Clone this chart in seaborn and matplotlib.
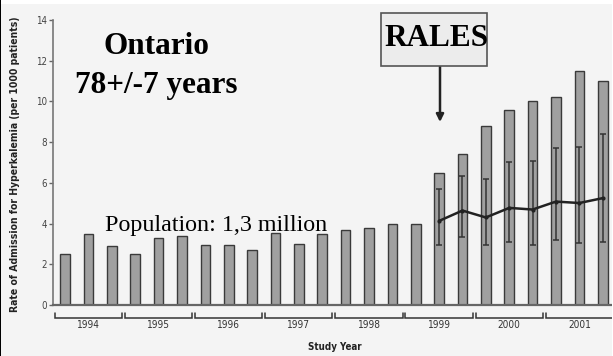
import matplotlib
matplotlib.use("Agg")
import matplotlib.pyplot as plt
from matplotlib.patches import Rectangle
import numpy as np
import pandas as pd
import seaborn as sns

# Admission rate for hyperkalemia, three periods per study year
years = ["1994", "1995", "1996", "1997", "1998", "1999", "2000", "2001"]
rates = [2.5, 3.5, 2.9, 2.5, 3.3, 3.4, 2.95, 2.95, 2.7, 3.55, 3.0, 3.5,
         3.7, 3.8, 4.0, 4.0, 6.5, 7.4, 8.8, 9.6, 10.0, 10.2, 11.5, 11.0]

# Spironolactone-related trend with its interval (from the second 1999 period on)
trend_start = 16
trend = [4.13, 4.64, 4.30, 4.77, 4.69, 5.08, 5.01, 5.25]
trend_low = [2.94, 3.32, 2.94, 3.10, 2.94, 3.17, 3.05, 3.10]
trend_high = [5.72, 6.36, 6.19, 7.03, 7.07, 7.73, 7.78, 8.38]

W, H = 613, 356
BG = "#f4f4f4"

sns.set_style("ticks")
plt.rcParams["font.family"] = ["Liberation Sans Narrow", "DejaVu Sans"]
plt.rcParams["font.stretch"] = "condensed"

fig = plt.figure(figsize=(W / 100, H / 100), dpi=100, facecolor=BG)
ax = fig.add_axes([52.7 / W, 51 / H, (W - 52.7) / W, 285 / H])
ax.set_facecolor("none")

df = pd.DataFrame({"period": np.arange(len(rates)), "rate": rates})
sns.barplot(data=df, x="period", y="rate", color="#a0a0a0", saturation=1,
            width=0.41, edgecolor="#3a3a3a", linewidth=1.0, ax=ax)

tx = np.arange(trend_start, trend_start + len(trend))
tr = np.array(trend)
yerr = np.vstack([tr - np.array(trend_low), np.array(trend_high) - tr])
ax.errorbar(tx, tr, yerr=yerr, fmt="none", ecolor="#333333", elinewidth=1.1,
            capsize=2.2, capthick=1.1, zorder=3)
tdf = pd.DataFrame({"period": tx, "rate": tr})
sns.lineplot(data=tdf, x="period", y="rate", color="#222222", linewidth=1.8,
             marker="o", markersize=3, markeredgewidth=0, ax=ax, zorder=4)

ax.set_xlim(-0.53, 23.44)
ax.set_ylim(0, 14)
ax.set_yticks(range(0, 15, 2))
ax.tick_params(axis="y", colors="#666666", labelcolor="#444444", labelsize=7,
               length=3, width=1.0, pad=1)
ax.set_xticks([])
ax.set_xlabel("")
ax.set_ylabel("")
for s in ["top", "right"]:
    ax.spines[s].set_visible(False)
ax.spines["left"].set_color("#777777")
ax.spines["left"].set_linewidth(1.2)
ax.spines["bottom"].set_color("#666666")
ax.spines["bottom"].set_linewidth(1.6)

# Year brackets under the axis
for g, yr in enumerate(years):
    c = g * 3 + 1
    x0, x1 = c - 1.44, c + 1.44
    ax.plot([x0, x0, x1, x1], [-0.38, -0.65, -0.65, -0.38], color="#333333",
            lw=1.1, clip_on=False, solid_joinstyle="miter")
    ax.text(c, -1.0, yr, ha="center", va="center", fontsize=7.2, color="#333333")

fig.text(334.5 / W, 1 - 346.5 / H, "Study Year", ha="center", va="center",
         fontsize=7, fontweight="bold", color="#222222")
fig.text(15 / W, 1 - 164 / H,
         "Rate of Admission for Hyperkalemia (per 1000 patients)",
         rotation=90, ha="center", va="center", fontsize=7.5,
         fontweight="bold", color="#222222")

serif = ["Liberation Serif", "DejaVu Serif"]
fig.text(156.5 / W, 1 - 47 / H, "Ontario", ha="center", va="center",
         fontsize=22.5, fontweight="bold", family=serif, stretch="normal",
         color="black")
fig.text(156.5 / W, 1 - 85 / H, "78+/-7 years", ha="center", va="center",
         fontsize=22.5, fontweight="bold", family=serif, stretch="normal",
         color="black")
fig.text(216 / W, 1 - 225 / H, "Population: 1,3 million", ha="center",
         va="center", fontsize=17.3, family=serif, stretch="normal",
         color="black")

# RALES marker box and arrow
fig.add_artist(Rectangle((381.3 / W, 1 - 65.7 / H), 106 / W, 53 / H,
                         transform=fig.transFigure, facecolor="#ececec",
                         edgecolor="#555555", linewidth=1.2))
fig.text(436.5 / W, 1 - 38.5 / H, "RALES", ha="center", va="center",
         fontsize=22.5, fontweight="bold", family=serif, stretch="normal",
         color="black")
ax.annotate("", xy=(440 / W, 1 - 122 / H), xytext=(440 / W, 1 - 66 / H),
            xycoords="figure fraction", textcoords="figure fraction",
            arrowprops=dict(arrowstyle="-|>", color="#222222", lw=1.8,
                            mutation_scale=11, shrinkA=0, shrinkB=0))

# Frame strips along the edges
fig.add_artist(Rectangle((0, 1 - 4 / H), 1, 4 / H, transform=fig.transFigure,
                         facecolor="white", edgecolor="none"))
fig.add_artist(Rectangle((1 - 1.5 / W, 0), 1.5 / W, 1, transform=fig.transFigure,
                         facecolor="white", edgecolor="none"))
fig.add_artist(Rectangle((0, 0), 1.5 / W, 1, transform=fig.transFigure,
                         facecolor="black", edgecolor="none"))

fig.savefig("out.png", dpi=100, facecolor=BG)
